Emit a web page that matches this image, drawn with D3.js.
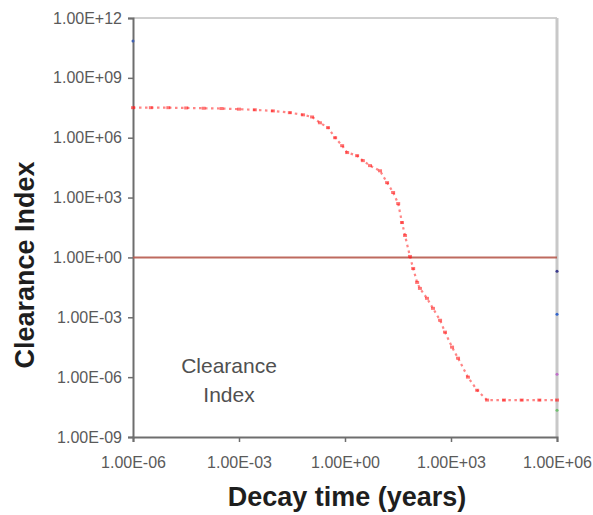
<!DOCTYPE html>
<html>
<head>
<meta charset="utf-8">
<script src="https://cdn.jsdelivr.net/npm/d3@7"></script>
<style>
  html, body { margin: 0; padding: 0; background: #fff; }
  svg { display: block; }
</style>
</head>
<body>
<svg id="chart" width="593" height="515"></svg>
<script>
// ---- data ----
const decayYears = [1e-6, 3.2e-6, 1e-5, 3.2e-5, 1e-4, 3.2e-4, 1e-3, 2.8e-3, 9.1e-3, 2.75e-2,
  6.5e-2, 0.117, 0.195, 0.33, 0.525, 0.83, 1.15, 2.2, 3.2, 5.1,
  9.8, 15.5, 23, 32, 41, 50, 69, 85, 110, 132,
  209, 309, 490, 676, 1070, 1580, 3020, 5500, 10500, 31600,
  1e5, 3.16e5, 1e6];
const clearanceIndex = [3.2e7, 3.2e7, 3.2e7, 3.1e7, 3.0e7, 2.9e7, 2.7e7, 2.5e7, 2.2e7, 1.8e7,
  1.4e7, 1.1e7, 5.6e6, 3.2e6, 1.0e6, 4.0e5, 1.8e5, 1.26e5, 7.1e4, 4.0e4,
  2.2e4, 5.6e3, 1.8e3, 500, 56, 12.6, 1.12, 0.28, 0.056, 0.028,
  8.9e-3, 2.8e-3, 7.1e-4, 1.8e-4, 3.2e-5, 8.9e-6, 1.0e-6, 2.2e-7, 7.1e-8, 7.1e-8,
  7.1e-8, 7.1e-8, 7.1e-8];
const limitLevel = 1;                       // clearance limit line
const otherX = [1e6, 1e6, 1e6, 1e6, 1e-6];  // stray points of other series
const otherY = [0.2, 1.4e-3, 1.4e-6, 2.2e-8, 7e10];
const otherColors = ["#3a3a8c", "#3366cc", "#c070c8", "#70c070", "#4060b0"];
const xTicks = [1e-6, 1e-3, 1e0, 1e3, 1e6];
const yTicks = [1e-9, 1e-6, 1e-3, 1e0, 1e3, 1e6, 1e9, 1e12];
const xTitle = "Decay time (years)";
const yTitle = "Clearance Index";
const noteLines = ["Clearance", "Index"];

// ---- layout ----
const svg = d3.select("#chart");
const L = 133, R = 557, T = 18, B = 437;
const x = d3.scaleLog().domain([1e-6, 1e6]).range([L, R]);
const y = d3.scaleLog().domain([1e-9, 1e12]).range([B, T]);

function sci(v) {
  const e = Math.round(Math.log10(v));
  const s = e < 0 ? "-" : "+";
  return "1.00E" + s + String(Math.abs(e)).padStart(2, "0");
}

const font = "'Liberation Sans', Arial, sans-serif";

// frame: top and right
svg.append("line").attr("x1", L).attr("x2", R).attr("y1", T).attr("y2", T)
  .attr("stroke", "#a0a0a0").attr("stroke-width", 1);
svg.append("line").attr("x1", R).attr("x2", R).attr("y1", T).attr("y2", B)
  .attr("stroke", "#c8c8c8").attr("stroke-width", 3);

// axes
const yAxis = d3.axisLeft(y).tickValues(yTicks).tickFormat(sci).tickSize(5).tickPadding(6);
const gy = svg.append("g").attr("transform", `translate(${L},0)`).call(yAxis);
const xAxis = d3.axisBottom(x).tickValues(xTicks).tickFormat(sci).tickSize(5).tickPadding(15);
const gx = svg.append("g").attr("transform", `translate(0,${B})`).call(xAxis);
[gx, gy].forEach(g => {
  g.select(".domain").attr("stroke", "#6e6e6e").attr("stroke-width", 2);
  g.selectAll(".tick line").attr("stroke", "#6e6e6e").attr("stroke-width", 1.5);
  g.selectAll(".tick text").attr("fill", "#5a5a5a").style("font-family", font).style("font-size", "16px");
});

// limit line
svg.append("line").attr("x1", x(1e-6)).attr("x2", x(1e6))
  .attr("y1", y(limitLevel)).attr("y2", y(limitLevel))
  .attr("stroke", "#b85a4e").attr("stroke-width", 2).attr("opacity", 0.9);

// clearance curve
const pts = decayYears.map((d, i) => [d, clearanceIndex[i]]);
const line = d3.line().x(d => x(d[0])).y(d => y(d[1]));
svg.append("path").datum(pts).attr("d", line)
  .attr("fill", "none").attr("stroke", "#ff2020").attr("stroke-opacity", 0.55)
  .attr("stroke-width", 2.2).attr("stroke-dasharray", "2.5,3.5");
svg.selectAll("rect.mk").data(pts).enter().append("rect").attr("class", "mk")
  .attr("x", d => x(d[0]) - 2).attr("y", d => y(d[1]) - 1.5)
  .attr("width", 4).attr("height", 3)
  .attr("fill", "#ff1a1a").attr("opacity", 0.6);

// stray points from other series
svg.selectAll("circle.o").data(otherX).enter().append("circle").attr("class", "o")
  .attr("cx", d => x(d)).attr("cy", (d, i) => y(otherY[i])).attr("r", 1.5)
  .attr("fill", (d, i) => otherColors[i]);

// annotation
const note = svg.append("text").attr("fill", "#505050")
  .style("font-family", font).style("font-size", "21px").attr("text-anchor", "middle");
noteLines.forEach((t, i) => note.append("tspan").attr("x", 229).attr("y", 373 + i * 29).text(t));

// titles
svg.append("text").attr("x", 347).attr("y", 506).attr("text-anchor", "middle")
  .attr("fill", "#1e1e1e").style("font-family", font).style("font-weight", "bold")
  .style("font-size", "27px").text(xTitle);
svg.append("text").attr("transform", "translate(34,265) rotate(-90)").attr("text-anchor", "middle")
  .attr("fill", "#1e1e1e").style("font-family", font).style("font-weight", "bold")
  .style("font-size", "27px").text(yTitle);
</script>
</body>
</html>
